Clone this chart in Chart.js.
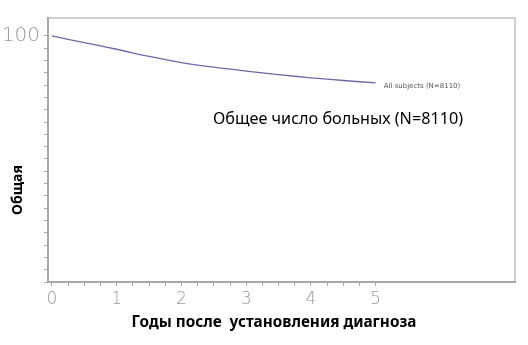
<!DOCTYPE html>
<html>
<head>
<meta charset="utf-8">
<script src="https://cdn.jsdelivr.net/npm/chart.js@4/dist/chart.umd.min.js"></script>
<style>
  html, body { margin: 0; padding: 0; background: #fff; }
  #wrap { width: 528px; height: 345px; position: relative; }
</style>
</head>
<body>
<div id="wrap"><canvas id="myChart" width="528" height="345"></canvas></div>
<script>
// years after diagnosis and overall survival (%)
const years = [0, 0.5, 1, 1.5, 2, 2.5, 3, 3.5, 4, 4.5, 5];
const survival = [100, 97.3, 94.6, 91.7, 89.2, 87.3, 85.7, 84.3, 83.0, 81.9, 80.9];
const xTickLabels = ['0', '1', '2', '3', '4', '5'];
const yTickLabels = ['100'];

const seriesName = 'All subjects (N=8110)';
const noteText = 'Общее число больных (N=8110)';
const yTitle = 'Общая';
const xTitle = 'Годы после  установления диагноза';

const points = years.map((x, i) => ({ x: x, y: survival[i] }));

const decor = {
  id: 'decor',
  beforeDraw(chart) {
    const { ctx, chartArea: a } = chart;
    ctx.save();
    // frame on top and right
    ctx.strokeStyle = '#cfcfcf';
    ctx.lineWidth = 2;
    ctx.beginPath();
    ctx.moveTo(a.left, a.top);
    ctx.lineTo(a.right, a.top);
    ctx.lineTo(a.right, a.bottom);
    ctx.stroke();
    ctx.restore();
  },
  afterDraw(chart) {
    const { ctx } = chart;
    const xs = chart.scales.x, ys = chart.scales.y;
    ctx.save();
    // label at end of curve
    const last = points[points.length - 1];
    ctx.fillStyle = '#555';
    ctx.font = '7px "DejaVu Sans"';
    ctx.textBaseline = 'middle';
    ctx.fillText(seriesName, xs.getPixelForValue(last.x) + 8, ys.getPixelForValue(last.y) + 3);
    // note
    ctx.fillStyle = '#000';
    ctx.font = '16.2px "Noto Sans"';
    ctx.fillText(noteText, 213, 119);
    // x title
    ctx.font = 'bold 15.3px "Noto Sans"';
    ctx.textAlign = 'center';
    ctx.fillText(xTitle, 274, 323);
    // y title
    ctx.font = 'bold 14px "Noto Sans"';
    ctx.translate(18, 190);
    ctx.rotate(-Math.PI / 2);
    ctx.fillText(yTitle, 0, 0);
    ctx.restore();
  }
};

new Chart(document.getElementById('myChart').getContext('2d'), {
  type: 'line',
  data: {
    datasets: [
      {
        label: seriesName,
        data: points,
        borderColor: '#6b6ba6',
        borderWidth: 1.3,
        pointRadius: 0,
        tension: 0.4,
        fill: false,
      },
    ],
  },
  options: {
    responsive: false,
    animation: false,
    layout: { padding: { top: 18, right: 13, left: 0, bottom: 0 } },
    plugins: { legend: { display: false }, tooltip: { enabled: false } },
    scales: {
      x: {
        type: 'linear',
        min: -0.06,
        max: 7.15,
        afterFit(scale) { scale.height = 63; },
        afterBuildTicks(scale) {
          const t = [];
          for (let i = 0; i <= 20; i++) t.push({ value: i * 0.25 });
          scale.ticks = t;
        },
        border: { color: '#a8a8a8', width: 2 },
        grid: { drawOnChartArea: false, tickLength: 4, color: '#a8a8a8' },
        ticks: {
          autoSkip: false,
          maxRotation: 0,
          padding: 3,
          color: '#999',
          font: { family: 'DejaVu Sans', size: 17, weight: '200' },
          callback: (v) => (Number.isInteger(v) && xTickLabels.includes(String(v)) ? String(v) : ''),
        },
      },
      y: {
        min: 0,
        max: 107.3,
        afterFit(scale) { scale.width = 48; },
        afterBuildTicks(scale) {
          const t = [];
          for (let i = 0; i <= 20; i++) t.push({ value: i * 5 });
          scale.ticks = t;
        },
        border: { color: '#a8a8a8', width: 2 },
        grid: { drawOnChartArea: false, tickLength: 4, color: '#a8a8a8' },
        ticks: {
          autoSkip: false,
          padding: 4,
          color: '#999',
          font: { family: 'DejaVu Sans', size: 20, weight: '200' },
          callback: (v) => (yTickLabels.includes(String(v)) ? String(v) : ''),
        },
      },
    },
  },
  plugins: [decor],
});
</script>
</body>
</html>
